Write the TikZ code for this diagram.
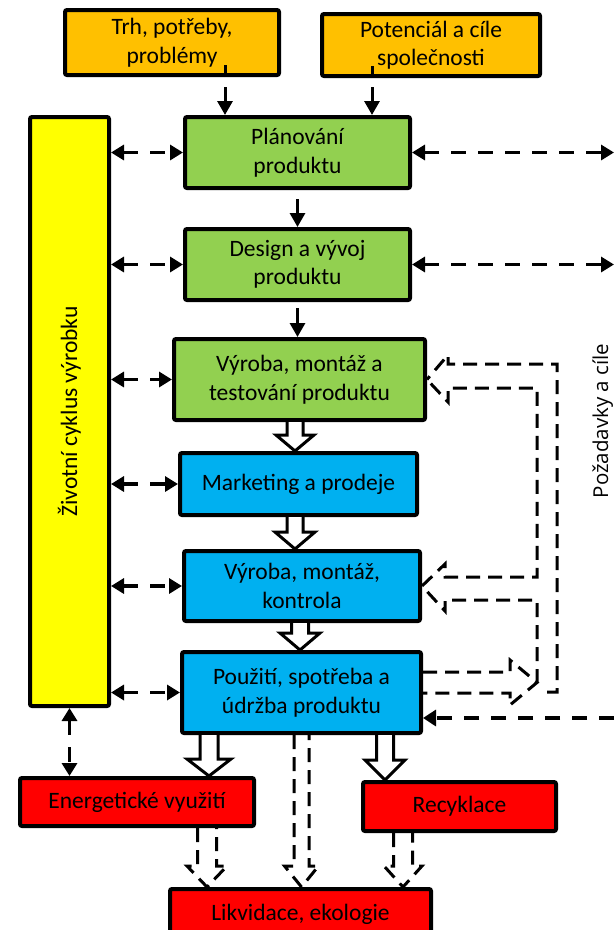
\documentclass[tikz,border=0pt]{standalone}
\usepackage{fontspec}
\setmainfont{Carlito}
\newfontfamily\reqfont{Open Sans}
\usetikzlibrary{arrows.meta,calc}
\definecolor{cOrange}{HTML}{FFC000}
\definecolor{cGreen}{HTML}{92D050}
\definecolor{cBlue}{HTML}{00B0F0}
\definecolor{cYellow}{HTML}{FFFF00}
\definecolor{cRed}{HTML}{FF0000}
\newcommand\hollowdown[6]{%
  \draw[#1] let \p1=(#2), \p2=(#3) in
    (\x1-#4pt,\y1) -- (\x1-#4pt,\y2+#6pt) -- (\x1-#5pt,\y2+#6pt) -- (\x1,\y2)
    -- (\x1+#5pt,\y2+#6pt) -- (\x1+#4pt,\y2+#6pt) -- (\x1+#4pt,\y1);}
\begin{document}
\begin{tikzpicture}[x=1pt,y=-1pt,
  box/.style={draw=black, line width=4pt, rounded corners=2pt, align=center,
    font=\fontsize{23.5pt}{28.5pt}\selectfont, inner sep=0pt},
  dblarr/.style={line width=3.5pt, dash pattern=on 15pt off 12pt,
    {Triangle[length=13pt,width=15pt]}-{Triangle[length=13pt,width=15pt]}},
  sglarr/.style={line width=3.5pt, dash pattern=on 15pt off 12pt,
    -{Triangle[length=13pt,width=16pt]}},
  solidarr/.style={line width=3pt, -{Triangle[length=14pt,width=15pt]}},
  hollowarr/.style={draw=black, line width=3pt, fill=white, line join=miter},
  dhollow/.style={draw=black, line width=3pt, dash pattern=on 14pt off 8pt},
]
\useasboundingbox (0,0) rectangle (614,930);
\coordinate (redge) at (614,0);

% boxes
\node[box, fill=cOrange, minimum width=214pt, minimum height=65pt] (trh) at (172,42.5) {Trh, potřeby,\\problémy};
\node[box, fill=cOrange, minimum width=218pt, minimum height=62pt] (pot) at (431,45) {Potenciál a cíle\\společnosti};
\node[box, fill=cGreen, minimum width=225pt, minimum height=71pt] (plan) at (297.5,152.5) {Plánování\\produktu};
\node[box, fill=cGreen, minimum width=225pt, minimum height=71pt] (design) at (297.5,264.5) {Design a vývoj\\produktu};
\node[box, fill=cGreen, minimum width=251pt, minimum height=81pt] (vyrT) at (299.5,379.5) {Výroba, montáž a\\testování produktu};
\node[box, fill=cBlue, minimum width=237pt, minimum height=62pt] (mark) at (298.5,484) {Marketing a prodeje};
\node[box, fill=cBlue, minimum width=236pt, minimum height=70pt] (vyrK) at (302,586) {Výroba, montáž,\\kontrola};
\node[box, fill=cBlue, minimum width=239pt, minimum height=81pt] (pouz) at (301.5,692.5) {Použití, spotřeba a\\údržba produktu};
\node[box, fill=cYellow, minimum width=79pt, minimum height=589pt] (life) at (69.5,411.5) {};
\node[rotate=90, font=\fontsize{23.5pt}{28.5pt}\selectfont] (lifetext) at (life.center) {Životní cyklus výrobku};
\node[box, fill=cRed, minimum width=234pt, minimum height=48pt] (energ) at (137,802) {Energetické využití};
\node[box, fill=cRed, minimum width=193pt, minimum height=49pt] (recyk) at (459.5,806.5) {Recyklace};
\node[box, fill=cRed, minimum width=261pt, minimum height=50pt] (likv) at (300.5,914) {Likvidace, ekologie};
\node[rotate=90, anchor=base, font=\reqfont\fontsize{20.5pt}{24pt}\selectfont] (req) at (608,421) {Požadavky a cíle};

% solid thin arrows
\path (plan.north west) ++(42,0) coordinate (ta);
\path (plan.north west) ++(189,0) coordinate (tb);
\draw[line width=3pt] (ta |- trh.south) -- ++(0,-12);
\draw[line width=3pt] (tb |- pot.south) -- ++(0,-12);
\draw[solidarr] ($(ta |- trh.south)+(0,10)$) -- (ta);
\draw[solidarr] ($(tb |- pot.south)+(0,9)$) -- (tb);
\draw[solidarr] ($(plan.south)+(0,9)$) -- (design.north);
\draw[solidarr] ($(design.south)+(0,6)$) -- (design.south |- vyrT.north);

% left double arrows
\foreach \b in {plan,design,vyrT,mark,vyrK,pouz}
  \draw[dblarr] (life.east |- \b.west) -- (\b.west);
\draw[dblarr] (life.south) -- (life.south |- energ.north);

% right double arrows
\draw[dblarr] (plan.east) -- (plan.east -| redge);
\draw[dblarr] (design.east) -- (design.east -| redge);
\coordinate (pb) at ($(pouz.east)+(0,25.5)$);
\draw[sglarr] (pb -| redge) -- (pb);

% hollow solid arrows
\path ($(vyrT.south)+(-4.5,0)$) coordinate (h1);
\hollowdown{hollowarr}{h1}{h1 |- mark.north}{8}{19}{16}
\path ($(mark.south)+(-3.5,0)$) coordinate (h2);
\hollowdown{hollowarr}{h2}{h2 |- vyrK.north}{8}{20}{17}
\path ($(vyrK.south)+(-2,0)$) coordinate (h3);
\hollowdown{hollowarr}{h3}{h3 |- pouz.north}{8.5}{20}{17}
\path ($(pouz.south west)+(29,0)$) coordinate (h4);
\hollowdown{hollowarr}{h4}{h4 |- energ.north}{9}{22}{17}
\path ($(pouz.south west)+(205,0)$) coordinate (h5);
\hollowdown{hollowarr}{h5}{h5 |- recyk.north}{8.5}{20}{20}

% dashed hollow arrows to Likvidace
\hollowdown{dhollow}{pouz.south}{pouz.south |- likv.north}{7.5}{17}{21}
\path ($(energ.south west)+(189,0)$) coordinate (d1);
\hollowdown{dhollow}{d1}{d1 |- likv.north}{9.5}{20}{21}
\path ($(recyk.south west)+(42,0)$) coordinate (d2);
\hollowdown{dhollow}{d2}{d2 |- likv.north}{9.5}{19}{21}

% right dashed hollow feedback arrows
\coordinate (pipeTip) at (537,682.5);
\draw[dhollow] ($(pouz.east)+(0,-20.5)$) -- (510,672) -- (510,660) -- (pipeTip)
  -- (510,705) -- (510,693) -- ($(pouz.east)+(0,0.5)$);
\draw[dhollow] (547,692) -- (557,692) -- (557,364) -- (448,364) -- (448,355) -- (vyrT.east);
\draw[dhollow] (537,683) -- (537,600) -- (445,600) -- (445,611) -- (vyrK.east)
  -- (445,564) -- (445,577) -- (537,577) -- (537,388) -- (448,388) -- (448,402) -- (vyrT.east);
\end{tikzpicture}
\end{document}
